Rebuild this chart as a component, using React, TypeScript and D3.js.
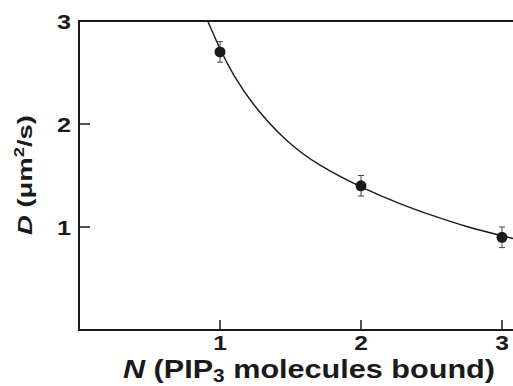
import React from "react";
import * as d3 from "d3";

const nValues = [1, 2, 3];
const dValues = [2.7, 1.4, 0.9];
const dErrors = [0.1, 0.1, 0.1];

const curveN = [0.913, 1.0, 1.1, 1.25, 1.47, 1.71, 2.0, 2.28, 2.5, 2.75, 3.0, 3.078];
const curveD = [3.0, 2.73, 2.47, 2.17, 1.845, 1.6, 1.39, 1.225, 1.115, 1.005, 0.915, 0.888];

const xTicks = [1, 2, 3];
const yTicks = [1, 2, 3];

const W = 513;
const H = 386;
const left = 79;
const right = 513;
const top = 21;
const bottom = 330;

export default function App() {
  const x = d3.scaleLinear().domain([0, 3.078]).range([left, right]);
  const y = d3.scaleLinear().domain([0, 3]).range([bottom, top]);

  const curvePts: [number, number][] = curveN.map((n, i) => [n, curveD[i]]);
  const line = d3
    .line<[number, number]>()
    .x((d) => x(d[0]))
    .y((d) => y(d[1]))
    .curve(d3.curveNatural);

  const font = "'Liberation Sans', Arial, Helvetica, sans-serif";
  const ink = "#1a1a1a";

  return (
    <svg
      width={W}
      height={H}
      style={{ position: "absolute", left: 0, top: 0, display: "block", background: "#fff" }}
      fontFamily={font}
    >
      <defs>
        <clipPath id="plot">
          <rect x={left} y={top} width={right - left} height={bottom - top} />
        </clipPath>
      </defs>
      {/* curve */}
      <path d={line(curvePts) || ""} fill="none" stroke={ink} strokeWidth={1.4} clipPath="url(#plot)" />
      {/* error bars and points */}
      {nValues.map((n, i) => {
        const cx = x(n);
        const y1 = y(dValues[i] + dErrors[i]);
        const y2 = y(dValues[i] - dErrors[i]);
        return (
          <g key={i}>
            <line x1={cx} x2={cx} y1={y1} y2={y2} stroke="#444" strokeWidth={1} />
            <line x1={cx - 3} x2={cx + 3} y1={y1} y2={y1} stroke="#444" strokeWidth={1} />
            <line x1={cx - 3} x2={cx + 3} y1={y2} y2={y2} stroke="#444" strokeWidth={1} />
            <circle cx={cx} cy={y(dValues[i])} r={5.5} fill={ink} />
          </g>
        );
      })}
      {/* axes */}
      <line x1={left} x2={right} y1={top} y2={top} stroke={ink} strokeWidth={2} />
      <line x1={left} x2={left} y1={top - 1} y2={bottom + 1} stroke={ink} strokeWidth={2} />
      <line x1={left - 1} x2={right} y1={bottom} y2={bottom} stroke={ink} strokeWidth={2} />
      {yTicks.map((t) => (
        <g key={"y" + t}>
          {t < 3 && <line x1={left} x2={left + 11} y1={y(t)} y2={y(t)} stroke={ink} strokeWidth={1.5} />}
          <text
            transform={`translate(71,${y(t) + 7.5}) scale(1.2,1)`}
            textAnchor="end"
            fontSize={21}
            fontWeight="bold"
            fill={ink}
          >
            {t}
          </text>
        </g>
      ))}
      {xTicks.map((t) => (
        <g key={"x" + t}>
          <line x1={x(t)} x2={x(t)} y1={bottom} y2={bottom - 10} stroke={ink} strokeWidth={1.5} />
          <text
            transform={`translate(${x(t)},349.5) scale(1.2,1)`}
            textAnchor="middle"
            fontSize={20.5}
            fontWeight="bold"
            fill={ink}
          >
            {t}
          </text>
        </g>
      ))}
      {/* x title */}
      <text
        x={123}
        y={378}
        textLength={372}
        lengthAdjust="spacingAndGlyphs"
        fontSize={26.5}
        fontWeight="bold"
        fill={ink}
      >
        <tspan fontStyle="italic">N</tspan>
        <tspan> (PIP</tspan>
        <tspan fontSize={18} dy={4}>3</tspan>
        <tspan dy={-4}> molecules bound)</tspan>
      </text>
      {/* y title */}
      <text
        transform={`translate(32,235) rotate(-90)`}
        textLength={120}
        lengthAdjust="spacingAndGlyphs"
        fontSize={21}
        fontWeight="bold"
        fill={ink}
      >
        <tspan fontStyle="italic">D</tspan>
        <tspan> (μm</tspan>
        <tspan fontSize={14} dy={-8}>2</tspan>
        <tspan dy={8}>/s)</tspan>
      </text>
    </svg>
  );
}
